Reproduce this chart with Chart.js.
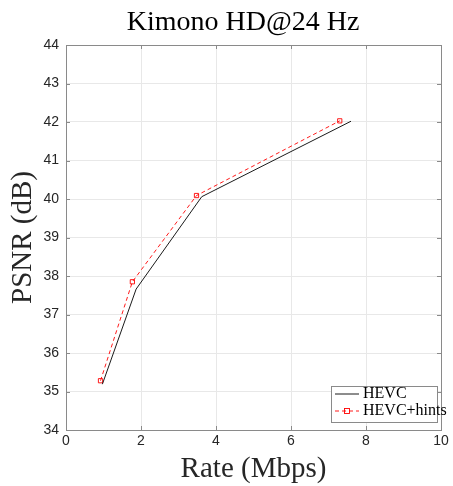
<!DOCTYPE html>
<html>
<head>
<meta charset="utf-8">
<script src="https://cdn.jsdelivr.net/npm/chart.js@4"></script>
<style>
  html, body { margin: 0; padding: 0; background: #fff; }
  #wrap { width: 453px; height: 486px; }
</style>
</head>
<body>
<div id="wrap"><canvas id="chart" width="453" height="486"></canvas></div>
<script>
// values
const hevcRate = [0.97, 1.87, 3.62, 7.6];
const hevcPsnr = [35.19, 37.66, 40.06, 42.02];
const hintsRate = [0.92, 1.77, 3.48, 7.3];
const hintsPsnr = [35.28, 37.85, 40.09, 42.03];
const xTicks = [0, 2, 4, 6, 8, 10];
const yTicks = [34, 35, 36, 37, 38, 39, 40, 41, 42, 43, 44];

const chartTitle = 'Kimono HD@24 Hz';
const xTitle = 'Rate (Mbps)';
const yTitle = 'PSNR (dB)';
const seriesNames = ['HEVC', 'HEVC+hints'];

const serif = '"Liberation Serif", "DejaVu Serif", serif';
const sans = '"Liberation Sans", Arial, sans-serif';

// titles, box, inward ticks and legend, MATLAB style
const matlabDecor = {
    id: 'matlabDecor',
    afterDraw(chart) {
        const { ctx, chartArea: a, scales } = chart;
        ctx.save();

        // axes box
        ctx.strokeStyle = '#8a8a8a';
        ctx.lineWidth = 1;
        ctx.strokeRect(Math.round(a.left) + 0.5, Math.round(a.top) + 0.5,
            Math.round(a.right - a.left), Math.round(a.bottom - a.top));

        // inward tick marks
        ctx.beginPath();
        xTicks.forEach(v => {
            const x = Math.round(scales.x.getPixelForValue(v)) + 0.5;
            ctx.moveTo(x, a.bottom); ctx.lineTo(x, a.bottom - 4);
            ctx.moveTo(x, a.top); ctx.lineTo(x, a.top + 4);
        });
        yTicks.forEach(v => {
            const y = Math.round(scales.y.getPixelForValue(v)) + 0.5;
            ctx.moveTo(a.left, y); ctx.lineTo(a.left + 4, y);
            ctx.moveTo(a.right, y); ctx.lineTo(a.right - 4, y);
        });
        ctx.stroke();

        // title
        ctx.fillStyle = '#000';
        ctx.textAlign = 'center';
        ctx.textBaseline = 'alphabetic';
        ctx.font = '28px ' + serif;
        ctx.fillText(chartTitle, 243, 30);

        // axis titles
        ctx.fillStyle = '#262626';
        ctx.font = '29px ' + serif;
        ctx.fillText(xTitle, (a.left + a.right) / 2, 477);
        ctx.save();
        ctx.translate(31, (a.top + a.bottom) / 2);
        ctx.rotate(-Math.PI / 2);
        ctx.fillText(yTitle, 0, 0);
        ctx.restore();

        // legend box
        const lx = 331, ly = 386, lw = 106, lh = 36;
        ctx.fillStyle = '#fff';
        ctx.fillRect(lx, ly, lw, lh);
        ctx.strokeStyle = '#8a8a8a';
        ctx.lineWidth = 1;
        ctx.strokeRect(lx + 0.5, ly + 0.5, lw, lh);

        ctx.lineWidth = 0.9;
        ctx.strokeStyle = '#000';
        ctx.beginPath();
        ctx.moveTo(lx + 4, ly + 8); ctx.lineTo(lx + 28, ly + 8);
        ctx.stroke();

        ctx.strokeStyle = '#ff0000';
        ctx.setLineDash([4, 3]);
        ctx.beginPath();
        ctx.moveTo(lx + 4, ly + 25); ctx.lineTo(lx + 28, ly + 25);
        ctx.stroke();
        ctx.setLineDash([]);
        ctx.strokeRect(lx + 13.5, ly + 22.5, 5, 5);

        ctx.fillStyle = '#000';
        ctx.textAlign = 'left';
        ctx.textBaseline = 'middle';
        ctx.font = '16px ' + serif;
        ctx.fillText(seriesNames[0], lx + 32, ly + 8);
        ctx.fillText(seriesNames[1], lx + 32, ly + 25);

        ctx.restore();
    }
};

const toPoints = (xs, ys) => xs.map((x, i) => ({ x: x, y: ys[i] }));

new Chart(document.getElementById('chart'), {
    type: 'line',
    data: {
        datasets: [
            {
                label: seriesNames[0],
                data: toPoints(hevcRate, hevcPsnr),
                borderColor: '#000',
                borderWidth: 0.9,
                pointRadius: 0,
                tension: 0,
                fill: false
            },
            {
                label: seriesNames[1],
                data: toPoints(hintsRate, hintsPsnr),
                borderColor: '#ff0000',
                borderWidth: 0.9,
                borderDash: [4, 3],
                pointStyle: 'rect',
                pointRadius: 3,
                pointBorderWidth: 0.9,
                pointBorderColor: '#ff0000',
                pointBackgroundColor: 'rgba(0,0,0,0)',
                tension: 0,
                fill: false
            }
        ]
    },
    options: {
        responsive: false,
        animation: false,
        layout: { padding: { top: 45, right: 12, left: 0, bottom: 0 } },
        plugins: {
            legend: { display: false },
            title: { display: false },
            tooltip: { enabled: false }
        },
        scales: {
            x: {
                type: 'linear',
                min: 0,
                max: 10,
                afterBuildTicks: s => { s.ticks = xTicks.map(v => ({ value: v })); },
                afterFit: s => { s.height = 56; },
                grid: { color: '#e8e8e8', drawTicks: false },
                border: { display: false },
                ticks: {
                    color: '#262626',
                    padding: 3,
                    maxRotation: 0,
                    font: { family: sans, size: 14 }
                }
            },
            y: {
                type: 'linear',
                min: 34,
                max: 44,
                afterBuildTicks: s => { s.ticks = yTicks.map(v => ({ value: v })); },
                afterFit: s => { s.width = 66; },
                grid: { color: '#e8e8e8', drawTicks: false },
                border: { display: false },
                ticks: {
                    color: '#262626',
                    padding: 7,
                    font: { family: sans, size: 14 }
                }
            }
        }
    },
    plugins: [matlabDecor]
});
</script>
</body>
</html>
